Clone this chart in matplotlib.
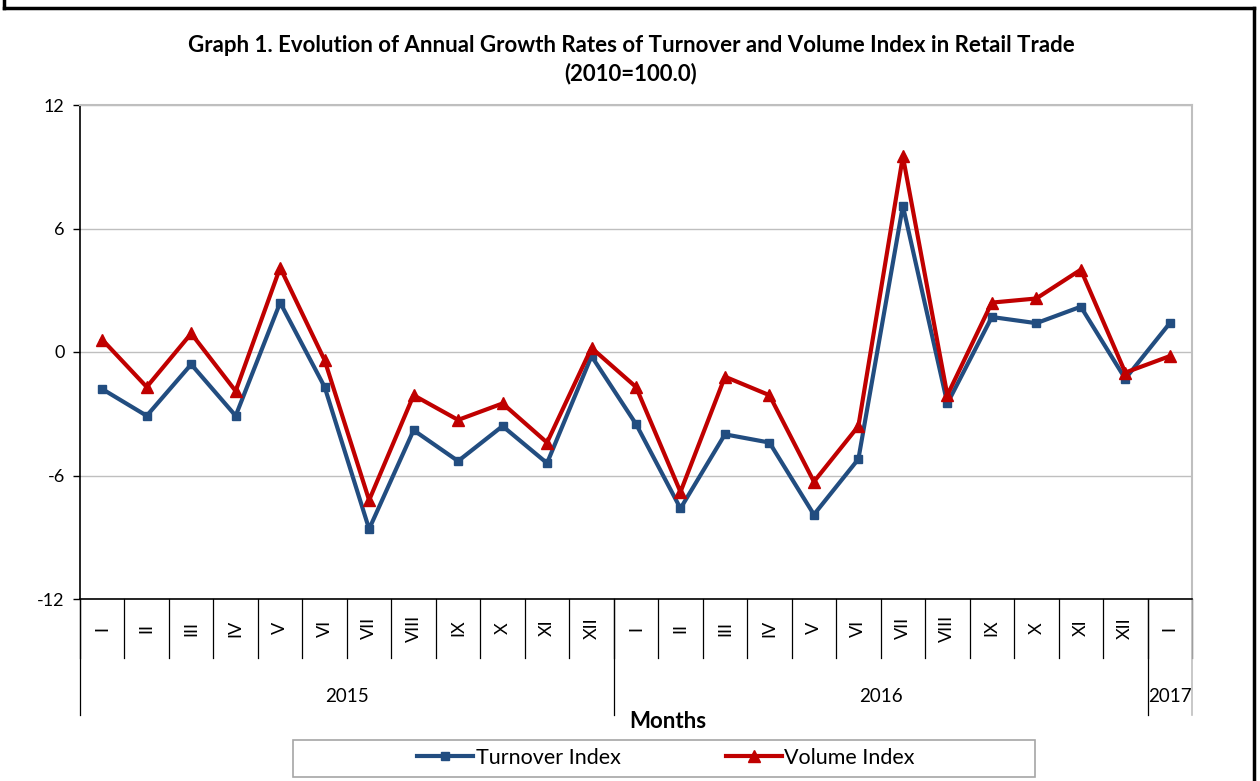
import matplotlib
matplotlib.use("Agg")
import matplotlib.pyplot as plt
import matplotlib.transforms as mtransforms
from matplotlib.lines import Line2D
from matplotlib.patches import Rectangle

plt.rcParams['font.family'] = ['Lato', 'DejaVu Sans']

# data
months = ["I", "II", "III", "IV", "V", "VI", "VII", "VIII", "IX", "X", "XI", "XII",
          "I", "II", "III", "IV", "V", "VI", "VII", "VIII", "IX", "X", "XI", "XII",
          "I"]
years = ["2015", "2016", "2017"]
year_len = [12, 12, 1]
turnover = [-1.8, -3.1, -0.6, -3.1, 2.4, -1.7, -8.6, -3.8, -5.3, -3.6, -5.4, -0.2,
            -3.5, -7.6, -4.0, -4.4, -7.9, -5.2, 7.1, -2.5, 1.7, 1.4, 2.2, -1.3,
            1.4]
volume = [0.6, -1.7, 0.9, -1.9, 4.1, -0.4, -7.2, -2.1, -3.3, -2.5, -4.4, 0.2,
          -1.7, -6.8, -1.2, -2.1, -6.3, -3.6, 9.5, -2.1, 2.4, 2.6, 4.0, -1.0,
          -0.2]
yticks = [-12, -6, 0, 6, 12]

blue = "#224D80"
red = "#C00000"
W, H = 1260, 781

fig = plt.figure(figsize=(W / 100, H / 100), dpi=100)
ax = fig.add_axes([80 / W, 1 - 599 / H, (1192 - 80) / W, (599 - 105) / H])

x = [i + 0.5 for i in range(len(months))]
ax.plot(x, turnover, color=blue, lw=3, marker="s", ms=6, label="Turnover Index", zorder=3)
ax.plot(x, volume, color=red, lw=3, marker="^", ms=8, label="Volume Index", zorder=4)

ax.set_xlim(0, len(months))
ax.set_ylim(-12, 12)
ax.set_yticks(yticks)
ax.set_yticklabels([str(v) for v in yticks], fontsize=13)
ax.tick_params(axis="y", direction="out", length=5, width=1, color="black", pad=6)
ax.set_xticks([])
ax.grid(axis="y", color="#BFBFBF", lw=1)
ax.set_axisbelow(True)
for s in ["left", "bottom"]:
    ax.spines[s].set_color("black")
    ax.spines[s].set_linewidth(1.2)
for s in ["top", "right"]:
    ax.spines[s].set_color("#BFBFBF")
    ax.spines[s].set_linewidth(1.5)

# category axis: month labels, dividers, year groups
trans = mtransforms.blended_transform_factory(ax.transData, ax.transAxes)
for i, m in enumerate(months):
    ax.text(i + 0.5, -0.059, m, transform=trans, rotation=90, ha="center",
            va="center", fontsize=13)
for i in range(len(months) + 1):
    ax.plot([i, i], [0, -0.119], transform=trans, color="black", lw=0.9, clip_on=False)
start = 0
for yr, n in zip(years, year_len):
    ax.plot([start, start], [0, -0.235], transform=trans, color="black", lw=0.9, clip_on=False)
    ax.text(start + n / 2, -0.198, yr, transform=trans, ha="center", va="center", fontsize=13.5)
    start += n
ax.plot([start, start], [0, -0.235], transform=trans, color="#BFBFBF", lw=1.2, clip_on=False)

fig.text(668 / W, 1 - 722 / H, "Months", ha="center", va="center", fontsize=16, fontweight="bold")
fig.text(631 / W, 1 - 45 / H, "Graph 1. Evolution of Annual Growth Rates of Turnover and Volume Index in Retail Trade",
         ha="center", va="center", fontsize=16, fontweight="bold")
fig.text(631 / W, 1 - 74 / H, "(2010=100.0)", ha="center", va="center", fontsize=16, fontweight="bold")

# legend box
fig.patches.append(Rectangle((293 / W, 1 - 777 / H), (1035 - 293) / W, 37 / H,
                             transform=fig.transFigure, fill=False, edgecolor="#A6A6A6", lw=1.2))
handles, labels = ax.get_legend_handles_labels()
fig.legend(handles, labels, loc="center", bbox_to_anchor=(666 / W, 1 - 758 / H), ncol=2,
           frameon=False, fontsize=15.5, handlelength=2.6, handletextpad=0.1,
           columnspacing=4.9, markerscale=1.0)

# outer frame
for xs, ys in [([4, 4], [0, 8]), ([4, 1254], [8, 8]), ([1254, 1254], [8, 781])]:
    fig.add_artist(Line2D([v / W for v in xs], [1 - v / H for v in ys], color="black", lw=2.5))

fig.savefig("out.png", dpi=100)
